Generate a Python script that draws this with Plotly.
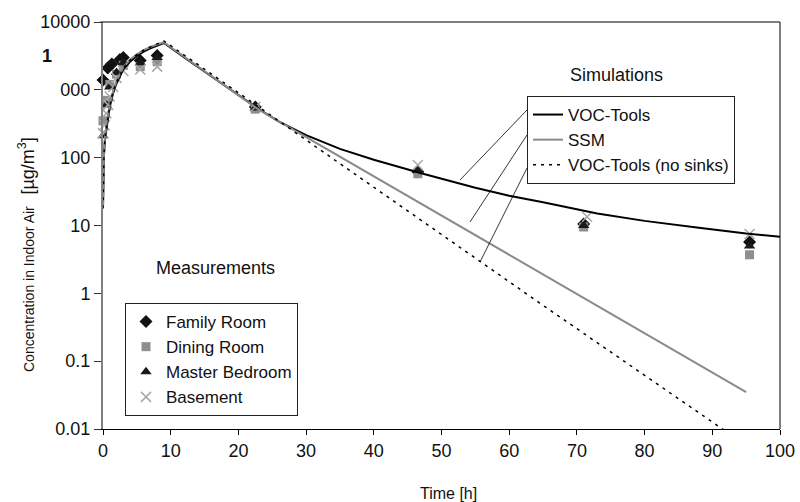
import plotly.graph_objects as go

# ---------------- data ----------------
# Simulations
voc_t = [0, 0.05, 0.15, 0.3, 0.55, 1, 1.5, 2, 3, 4, 5, 6, 7, 8, 9, 12, 16, 20, 23, 26, 30, 35, 40, 47, 55, 60, 65, 73, 80, 88, 95, 100]
voc_v = [18, 60, 110, 190, 300, 560, 900, 1250, 2000, 2600, 3150, 3650, 4100, 4500, 4900, 3000, 1600, 850, 520, 340, 215, 135, 93, 59, 36, 27.5, 22, 15, 11.7, 9.3, 7.6, 6.8]

ssm_t = [0, 0.05, 0.15, 0.3, 0.55, 1, 1.5, 2, 3, 4, 5, 6, 7, 8, 9, 16, 23, 95]
ssm_v = [18, 64, 120, 205, 330, 610, 970, 1350, 2150, 2800, 3350, 3850, 4300, 4650, 5000, 1600, 510, 0.035]

nos_t = [0, 0.05, 0.15, 0.3, 0.55, 1, 1.5, 2, 3, 4, 5, 6, 7, 8, 9, 23, 47, 64.5, 100]
nos_v = [18, 63, 115, 200, 315, 590, 950, 1310, 2100, 2730, 3300, 3830, 4300, 4730, 5250, 560, 12, 0.72, 0.0026]

# Measurements
fam_t = [0, 0.7, 1.3, 2.5, 3, 5.5, 8, 22.5, 46.5, 71, 95.5]
fam_v = [1400, 2100, 2400, 2800, 3000, 2700, 3200, 560, 62, 10.5, 5.7]

din_t = [0, 0.5, 1, 2, 3, 5.5, 8, 22.5, 46.5, 71, 95.5]
din_v = [350, 700, 1200, 1700, 2300, 2200, 2600, 520, 58, 9.5, 3.7]

mbr_t = [0, 0.5, 1, 2, 3, 5.5, 8, 22.5, 46.5, 71, 95.5]
mbr_v = [210, 600, 1100, 1800, 2500, 2500, 3000, 540, 65, 10, 5]

bas_t = [0, 0.25, 0.5, 0.75, 1, 1.5, 2, 3, 5.5, 8, 22.5, 46.5, 71.5, 95.5]
bas_v = [230, 300, 450, 600, 800, 1100, 1500, 1900, 2000, 2200, 560, 78, 13.5, 7.5]

x_ticks = [0, 10, 20, 30, 40, 50, 60, 70, 80, 90, 100]
y_ticks = [0.01, 0.1, 1, 10, 100, 1000, 10000]
y_ticktext = ["0.01", "0.1", "1", "10", "100", "000", "10000"]

FONT = "Arial, Liberation Sans, sans-serif"

fig = go.Figure()

# measurement markers (drawn below the lines)
fig.add_trace(go.Scatter(x=fam_t, y=fam_v, mode="markers", name="Family Room", legend="legend2",
                         marker=dict(symbol="diamond", size=10, color="#111111"), cliponaxis=False))
fig.add_trace(go.Scatter(x=din_t, y=din_v, mode="markers", name="Dining Room", legend="legend2",
                         marker=dict(symbol="square", size=9, color="#8e8e8e"), cliponaxis=False))
fig.add_trace(go.Scatter(x=mbr_t, y=mbr_v, mode="markers", name="Master Bedroom", legend="legend2",
                         marker=dict(symbol="triangle-up", size=10, color="#1a1a1a"), cliponaxis=False))
fig.add_trace(go.Scatter(x=bas_t, y=bas_v, mode="markers", name="Basement", legend="legend2",
                         marker=dict(symbol="x-thin-open", size=10, color="#a8a8a8",
                                     line=dict(width=1.5, color="#a8a8a8")), cliponaxis=False))

# simulation lines
fig.add_trace(go.Scatter(x=voc_t, y=voc_v, mode="lines", name="VOC-Tools", legend="legend",
                         line=dict(color="#000000", width=2)))
fig.add_trace(go.Scatter(x=ssm_t, y=ssm_v, mode="lines", name="SSM", legend="legend",
                         line=dict(color="#8a8a8a", width=2)))
fig.add_trace(go.Scatter(x=nos_t, y=nos_v, mode="lines", name="VOC-Tools (no sinks)", legend="legend",
                         line=dict(color="#000000", width=1.5, dash="3px,5px")))

W, H = 800, 502
L, R, T, B = 103, 20, 22, 73
pw, ph = W - L - R, H - T - B


def px(xp):
    return (xp - L) / pw


def py(yp):
    return (H - B - yp) / ph


shapes = [
    # frame top & right
    dict(type="line", xref="paper", yref="paper", x0=-0.004, y0=1, x1=1, y1=1, line=dict(color="black", width=1)),
    dict(type="line", xref="paper", yref="paper", x0=1, y0=0, x1=1, y1=1, line=dict(color="black", width=1)),
    # leader lines
    dict(type="line", xref="paper", yref="paper", x0=px(527), y0=py(110), x1=px(460), y1=py(180), line=dict(color="black", width=0.8)),
    dict(type="line", xref="paper", yref="paper", x0=px(527), y0=py(135), x1=px(470), y1=py(222), line=dict(color="black", width=0.8)),
    dict(type="line", xref="paper", yref="paper", x0=px(527), y0=py(168), x1=px(480), y1=py(262), line=dict(color="black", width=0.8)),
]

annotations = [
    dict(text="Simulations", x=px(616), y=py(75), xref="paper", yref="paper", showarrow=False,
         font=dict(family=FONT, size=18, color="#111"), xanchor="center", yanchor="middle"),
    dict(text="Measurements", x=px(215), y=py(268), xref="paper", yref="paper", showarrow=False,
         font=dict(family=FONT, size=18, color="#111"), xanchor="center", yanchor="middle"),
    dict(text="Time [h]", x=px(448), y=py(493), xref="paper", yref="paper", showarrow=False,
         font=dict(family=FONT, size=16, color="#111"), xanchor="center", yanchor="middle"),
    dict(text="Concentration in Indoor Air&nbsp;&nbsp;&nbsp;<span style='font-size:18px'>[µg/m<sup>3</sup>]</span>",
         x=px(26), y=py(255), xref="paper", yref="paper", showarrow=False, textangle=-90,
         font=dict(family=FONT, size=14, color="#111"), xanchor="center", yanchor="middle"),
    dict(text="<b>1</b>", x=px(47), y=py(56), xref="paper", yref="paper", showarrow=False,
         font=dict(family=FONT, size=18, color="#111"), xanchor="center", yanchor="middle"),
]

fig.update_layout(
    width=W, height=H,
    margin=dict(l=L, r=R, t=T, b=B, autoexpand=False),
    paper_bgcolor="white", plot_bgcolor="white",
    font=dict(family=FONT, color="#111"),
    xaxis=dict(range=[0, 100], tickvals=x_ticks, showgrid=False, zeroline=False, automargin=False,
               showline=True, linecolor="black", linewidth=1,
               ticks="outside", ticklen=5, tickcolor="black",
               tickfont=dict(family=FONT, size=18, color="#111")),
    yaxis=dict(type="log", range=[-2, 4], tickvals=y_ticks, ticktext=y_ticktext, showgrid=False,
               zeroline=False, showline=True, linecolor="#808080", linewidth=2, automargin=False,
               ticks="outside", ticklen=7, tickcolor="#333",
               tickfont=dict(family=FONT, size=18, color="#111")),
    legend=dict(x=px(527), y=py(96), xanchor="left", yanchor="top", bgcolor="white",
                bordercolor="#222", borderwidth=1, font=dict(family=FONT, size=17, color="#111")),
    legend2=dict(x=px(125), y=py(303), xanchor="left", yanchor="top", bgcolor="white",
                 bordercolor="#222", borderwidth=1, font=dict(family=FONT, size=17, color="#111")),
    shapes=shapes,
    annotations=annotations,
)

fig.write_html("out.html")
